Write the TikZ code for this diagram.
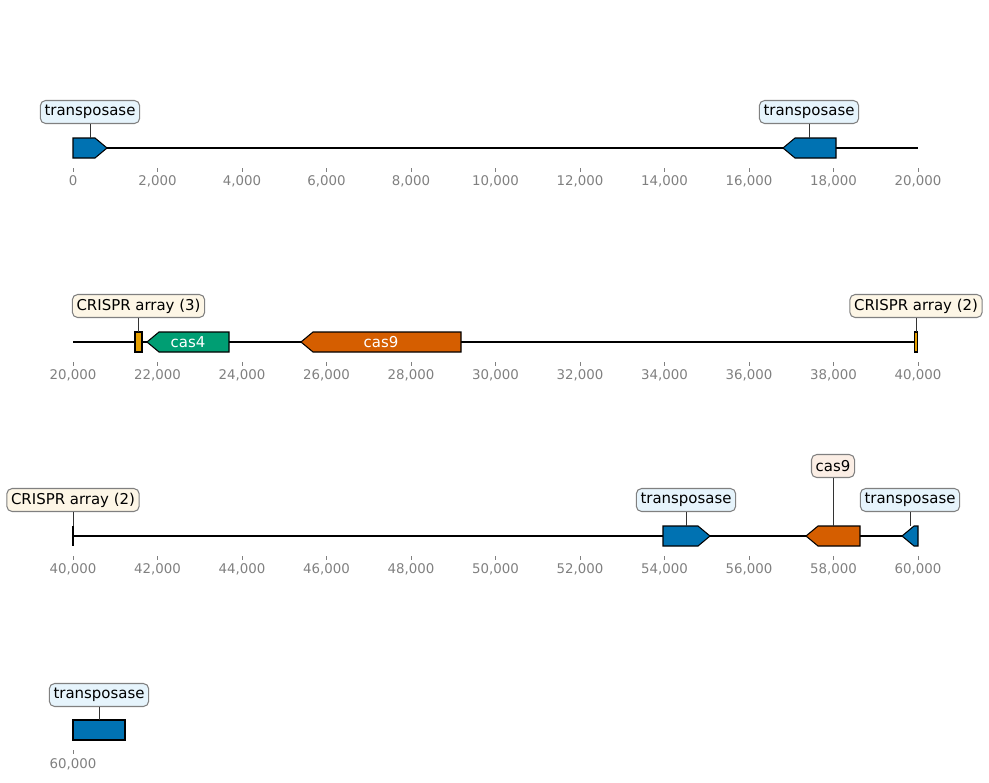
\documentclass[tikz,border=0pt]{standalone}
\usepackage{fontspec}
\setmainfont{DejaVu Sans}
\usepackage{xcolor}
\usepackage{tikz}
\usetikzlibrary{positioning,calc}
\definecolor{tpblue}{RGB}{0,114,178}
\definecolor{casgreen}{RGB}{0,158,115}
\definecolor{casorange}{RGB}{213,94,0}
\definecolor{crispryellow}{RGB}{230,159,0}
\definecolor{tpfill}{RGB}{230,244,252}
\definecolor{crisprfill}{RGB}{253,246,230}
\definecolor{cas9fill}{RGB}{251,238,229}
\definecolor{axisgray}{RGB}{128,128,128}

\begin{document}
\begin{tikzpicture}[x=0.02cm, y=-0.02cm,
    featbox/.style={draw=black, line width=0.6pt},
    genelabel/.style={draw=axisgray, line width=0.6pt, rounded corners=3pt, inner xsep=2.4pt, inner ysep=0pt,
        minimum height=0.46cm, font=\fontsize{8.5}{10}\selectfont},
    stem/.style={draw=black!80, line width=0.3pt},
    baseline/.style={line width=0.8pt},
    ticklab/.style={text=axisgray, font=\fontsize{7.6}{9}\selectfont}]
    \useasboundingbox (0,0) rectangle (989,782);

    % axes: ticks and coordinates
    \foreach \row/\yy/\base in {0/148/0, 1/342/20, 2/536/40} {
        \foreach \i in {0,...,10} {
            \pgfmathtruncatemacro\kb{\base+2*\i}
            \draw[axisgray, line width=0.4pt] (73+84.5*\i,\yy+20) -- (73+84.5*\i,\yy+24);
            \node[ticklab] at (73+84.5*\i,\yy+33) {\ifnum\kb=0 0\else\kb,000\fi};
        }
    }
    \draw[axisgray, line width=0.4pt] (73,750) -- (73,754);
    \node[ticklab] at (73,764) {60,000};

    % row 1: 0 - 20,000
    \draw[baseline] (73,148) -- (918,148);
    \draw[featbox, fill=tpblue] (73,138) -- (95,138) -- (107,148) -- (95,158) -- (73,158) -- cycle;
    \coordinate (tpA) at (90,138);
    \draw[featbox, fill=tpblue] (836,138) -- (795,138) -- (783,148) -- (795,158) -- (836,158) -- cycle;
    \coordinate (tpB) at (809,138);
    \node[genelabel, fill=tpfill] (tpAlab) at (90,112) {transposase};
    \node[genelabel, fill=tpfill] (tpBlab) at (809,112) {transposase};
    \draw[stem] (tpAlab) -- (tpA);
    \draw[stem] (tpBlab) -- (tpB);

    % row 2: 20,000 - 40,000
    \draw[baseline] (73,342) -- (918,342);
    \draw[featbox, fill=crispryellow] (135,332) rectangle (142,352);
    \coordinate (crA) at (138.5,332);
    \draw[featbox, fill=casgreen] (229,332) -- (159,332) -- (147,342) -- (159,352) -- (229,352) -- cycle;
    \node[text=white, font=\fontsize{8.5}{10}\selectfont] (cas4) at (188,342) {cas4};
    \draw[featbox, fill=casorange] (461,332) -- (313,332) -- (301,342) -- (313,352) -- (461,352) -- cycle;
    \node[text=white, font=\fontsize{8.5}{10}\selectfont] (cas9A) at (381,342) {cas9};
    \draw[featbox, fill=crispryellow] (914.5,332) rectangle (917.5,352);
    \coordinate (crB) at (916,332);
    \node[genelabel, fill=crisprfill] (crAlab) at (138.5,306) {CRISPR array (3)};
    \node[genelabel, fill=crisprfill] (crBlab) at (916,306) {CRISPR array (2)};
    \draw[stem] (crAlab) -- (crA);
    \draw[stem] (crBlab) -- (crB);

    % row 3: 40,000 - 60,000
    \draw[baseline] (73,536) -- (918,536);
    \draw[featbox, fill=crispryellow] (73,526) -- (73,546);
    \coordinate (crC) at (73,526);
    \draw[featbox, fill=tpblue] (663,526) -- (698,526) -- (710,536) -- (698,546) -- (663,546) -- cycle;
    \coordinate (tpC) at (686,526);
    \draw[featbox, fill=casorange] (860,526) -- (818,526) -- (806,536) -- (818,546) -- (860,546) -- cycle;
    \coordinate (cas9B) at (833,526);
    \draw[featbox, fill=tpblue] (918,526) -- (914,526) -- (902,536) -- (914,546) -- (918,546) -- cycle;
    \coordinate (tpD) at (910,526);
    \node[genelabel, fill=crisprfill] (crClab) at (73,500) {CRISPR array (2)};
    \node[genelabel, fill=tpfill] (tpClab) at (686,500) {transposase};
    \node[genelabel, fill=cas9fill] (cas9Blab) at (833,466) {cas9};
    \node[genelabel, fill=tpfill] (tpDlab) at (910,500) {transposase};
    \draw[stem] (crClab) -- (crC);
    \draw[stem] (tpClab) -- (tpC);
    \draw[stem] (cas9Blab) -- (cas9B);
    \draw[stem] (tpDlab) -- (tpD);

    % row 4: 60,000 -
    \draw[featbox, fill=tpblue] (73,720) rectangle (125,740);
    \coordinate (tpE) at (99,720);
    \node[genelabel, fill=tpfill] (tpElab) at (99,695) {transposase};
    \draw[stem] (tpElab) -- (tpE);
\end{tikzpicture}
\end{document}
